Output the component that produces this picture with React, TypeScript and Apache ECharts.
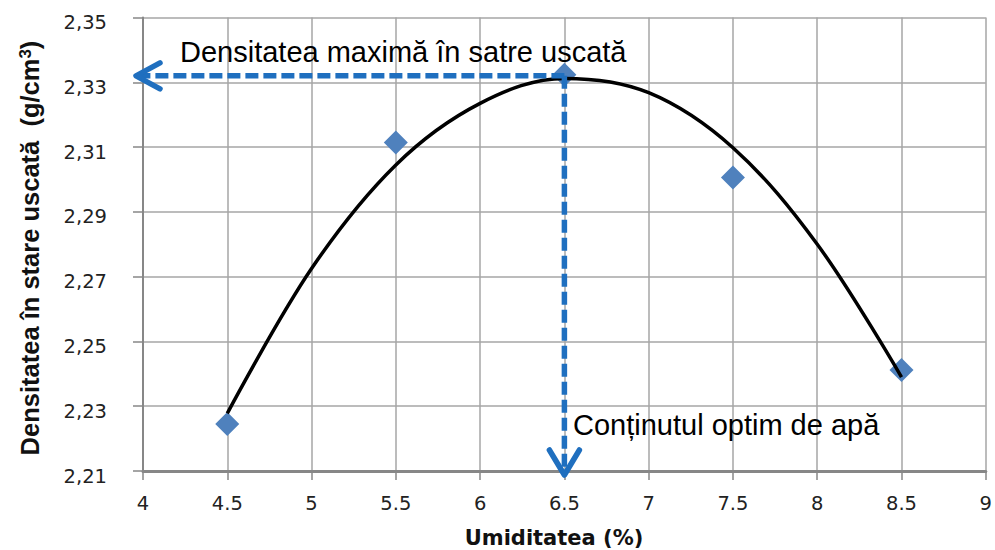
import React, { useEffect, useRef } from "react";
import * as echarts from "echarts";

// measured points (moisture %, dry density g/cm3)
const moisture = [4.5, 5.5, 6.5, 7.5, 8.5];
const density = [2.2245, 2.3114, 2.3323, 2.3006, 2.2412];

// polynomial trend line
const trendX = [4.5, 5, 5.5, 6, 6.5, 7, 7.5, 8, 8.5];
const trendY = [2.2278, 2.2725, 2.3045, 2.3235, 2.3312, 2.3268, 2.3098, 2.28, 2.239];

// optimum point (optimal water content, maximum dry density)
const optimumX = [6.5];
const optimumY = [2.332];

const xMin = 4;
const xMax = 9;
const xStep = 0.5;
const yMin = 2.21;
const yMax = 2.35;
const yStep = 0.02;

const labelMax = "Densitatea maximă în satre uscată";
const labelOpt = "Conținutul optim de apă";
const xName = "Umiditatea (%)";
const yNameMain = "Densitatea în stare uscată  (g/cm";
const yNameSup = "3";
const yNameEnd = ")";

const BLUE = "#1F6FBF";

export default function App() {
  const ref = useRef<HTMLDivElement>(null);
  useEffect(() => {
    if (!ref.current) return;
    const chart = echarts.init(ref.current, undefined, { renderer: "svg" });
    const option: any = {
      animation: false,
      backgroundColor: "#fff",
      grid: { left: 143, right: 8, top: 17.5, bottom: 79, containLabel: false },
      xAxis: {
        type: "value",
        min: xMin,
        max: xMax,
        interval: xStep,
        axisLine: { show: true, lineStyle: { color: "#878787", width: 3 } },
        axisTick: { show: true, length: 9, lineStyle: { color: "#878787", width: 1.5 } },
        splitLine: { show: true, lineStyle: { color: "#a6a6a6", width: 1.5 } },
        axisLabel: {
          fontFamily: "DejaVu Sans",
          fontSize: 19.5,
          color: "#222",
          margin: 22,
          formatter: (v: number) => String(v),
        },
      },
      yAxis: {
        type: "value",
        min: yMin,
        max: yMax,
        interval: yStep,
        axisLine: { show: true, lineStyle: { color: "#878787", width: 2 } },
        axisTick: { show: true, length: 10, lineStyle: { color: "#878787", width: 1.5 } },
        splitLine: { show: true, lineStyle: { color: "#a6a6a6", width: 1.5 } },
        axisLabel: {
          margin: 36,
          formatter: (v: number) => "{v|" + v.toFixed(2).replace(".", ",") + "}",
          rich: {
            v: {
              fontFamily: "DejaVu Sans",
              fontSize: 19.5,
              color: "#222",
              padding: [10, 0, 0, 0],
            },
          },
        },
      },
      series: [
        {
          type: "scatter",
          data: moisture.map((x, i) => [x, density[i]]),
          symbol: "diamond",
          symbolSize: 24,
          itemStyle: { color: "#4F81BD", opacity: 1 },
          z: 2,
        },
        {
          type: "line",
          data: trendX.map((x, i) => [x, trendY[i]]),
          smooth: 0.35,
          showSymbol: false,
          symbol: "none",
          lineStyle: { color: "#000", width: 3.5 },
          z: 3,
        },
        {
          type: "custom",
          clip: false,
          z: 5,
          data: optimumX.map((x, i) => [x, optimumY[i]]),
          renderItem: (params: any, api: any) => {
            const p = api.coord([api.value(0), api.value(1)]);
            const left = api.coord([xMin, api.value(1)])[0] - 7;
            const bottom = api.coord([api.value(0), yMin])[1] + 4;
            const dashStyle = {
              stroke: BLUE,
              lineWidth: 5.5,
              lineDash: [13, 5],
              fill: null,
            };
            const headStyle = {
              stroke: BLUE,
              lineWidth: 5.5,
              fill: null,
              lineCap: "round",
              lineJoin: "round",
            };
            return {
              type: "group",
              children: [
                {
                  type: "line",
                  shape: { x1: p[0], y1: p[1], x2: left + 3, y2: p[1] },
                  style: dashStyle,
                },
                {
                  type: "polyline",
                  shape: {
                    points: [
                      [left + 24, p[1] - 13],
                      [left, p[1]],
                      [left + 24, p[1] + 13],
                    ],
                  },
                  style: headStyle,
                },
                {
                  type: "line",
                  shape: { x1: p[0], y1: p[1], x2: p[0], y2: bottom - 3 },
                  style: dashStyle,
                },
                {
                  type: "polyline",
                  shape: {
                    points: [
                      [p[0] - 15, bottom - 25],
                      [p[0], bottom],
                      [p[0] + 15, bottom - 25],
                    ],
                  },
                  style: headStyle,
                },
              ],
            };
          },
        },
      ],
      graphic: [
        {
          type: "text",
          x: 180,
          y: 52,
          z: 10,
          style: {
            text: labelMax,
            fontFamily: "Liberation Sans",
            fontSize: 29,
            fill: "#000",
            align: "left",
            verticalAlign: "middle",
          },
        },
        {
          type: "text",
          x: 573,
          y: 425,
          z: 10,
          style: {
            text: labelOpt,
            fontFamily: "Liberation Sans",
            fontSize: 29,
            fill: "#000",
            align: "left",
            verticalAlign: "middle",
          },
        },
        {
          type: "text",
          x: 554,
          y: 538,
          style: {
            text: xName,
            fontFamily: "DejaVu Sans",
            fontWeight: "bold",
            fontSize: 21,
            fill: "#111",
            align: "center",
            verticalAlign: "middle",
          },
        },
        {
          type: "text",
          x: 30,
          y: 248,
          rotation: Math.PI / 2,
          style: {
            text: "{a|" + yNameMain + "}{s|" + yNameSup + "}{a|" + yNameEnd + "}",
            align: "center",
            verticalAlign: "middle",
            rich: {
              a: {
                fontFamily: "Liberation Sans",
                fontWeight: "bold",
                fontSize: 25.5,
                fill: "#111",
                color: "#111",
              },
              s: {
                fontFamily: "Liberation Sans",
                fontWeight: "bold",
                fontSize: 17,
                fill: "#111",
                color: "#111",
                verticalAlign: "top",
              },
            },
          },
        },
      ],
    };
    chart.setOption(option);
    return () => chart.dispose();
  }, []);
  return <div ref={ref} style={{ width: 995, height: 550, position: "absolute", left: 0, top: 0 }} />;
}
